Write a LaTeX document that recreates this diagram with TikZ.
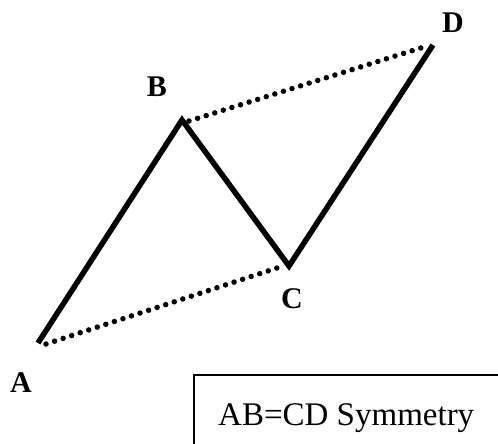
\documentclass[tikz,border=0pt]{standalone}
\usepackage{fontspec}
\setmainfont{Liberation Serif}
\begin{document}
\begin{tikzpicture}[x=1pt,y=-1pt,
  lbl/.style={font=\fontsize{30}{30}\selectfont\bfseries,inner sep=0pt},
  leg/.style={line width=5.5pt,line join=miter,line cap=butt},
  dots/.style={line width=5.5pt,line cap=round,dash pattern=on 0pt off 9pt},
  frame/.style={line width=1.4pt}]
\useasboundingbox (0,0) rectangle (498,444);
\coordinate (A) at (38,343);
\coordinate (B) at (182,120);
\coordinate (C) at (289,266);
\coordinate (D) at (433,45);
\draw[leg] (A) -- (B) -- (C) -- (D);
\draw[dots] ([xshift=8pt,yshift=-1pt]A) -- ([xshift=-6pt,yshift=0pt]C);
\draw[dots] ([xshift=7pt,yshift=-1pt]B) -- ([xshift=-6pt,yshift=-1pt]D);
\node[lbl] (la) at (21,383) {A};
\node[lbl] (lb) at (157,87) {B};
\node[lbl] (lc) at (292,299) {C};
\node[lbl] (ld) at (453,23) {D};
\coordinate (f1) at (194,444);
\coordinate (f2) at (194,375);
\coordinate (f3) at (498,375);
\draw[frame] (f1) -- (f2) -- (f3);
\node[anchor=base west,inner sep=0pt,font=\fontsize{33}{33}\selectfont] (t) at (218,425) {AB=CD Symmetry};
\end{tikzpicture}
\end{document}
